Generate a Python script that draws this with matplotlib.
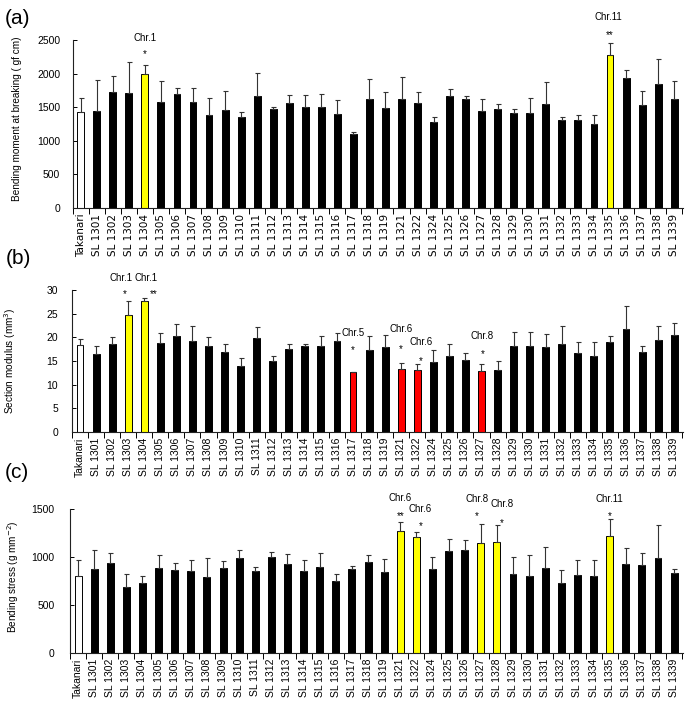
import matplotlib
matplotlib.use('Agg')
import matplotlib.pyplot as plt
import numpy as np

plt.rcParams['font.family'] = ['Liberation Sans', 'DejaVu Sans']

lines = ['Takanari', 'SL 1301', 'SL 1302', 'SL 1303', 'SL 1304', 'SL 1305', 'SL 1306',
         'SL 1307', 'SL 1308', 'SL 1309', 'SL 1310', 'SL 1311', 'SL 1312', 'SL 1313',
         'SL 1314', 'SL 1315', 'SL 1316', 'SL 1317', 'SL 1318', 'SL 1319', 'SL 1321',
         'SL 1322', 'SL 1324', 'SL 1325', 'SL 1326', 'SL 1327', 'SL 1328', 'SL 1329',
         'SL 1330', 'SL 1331', 'SL 1332', 'SL 1333', 'SL 1334', 'SL 1335', 'SL 1336',
         'SL 1337', 'SL 1338', 'SL 1339']

moment = [1430, 1440, 1720, 1710, 2000, 1580, 1700, 1580, 1390, 1460, 1350, 1670, 1480,
          1560, 1510, 1510, 1400, 1100, 1625, 1495, 1625, 1565, 1280, 1660, 1615, 1440,
          1480, 1420, 1420, 1550, 1315, 1310, 1250, 2280, 1935, 1535, 1845, 1625]
moment_sd = [200, 460, 250, 470, 130, 310, 90, 210, 250, 280, 80, 340, 20, 120, 170, 190,
             200, 35, 295, 230, 325, 160, 75, 105, 45, 180, 75, 60, 210, 325, 35, 70, 130,
             180, 120, 200, 365, 265]

modulus = [18.4, 16.5, 18.6, 24.7, 27.6, 18.8, 20.3, 19.3, 18.1, 16.9, 14.0, 19.9, 15.1,
           17.5, 18.1, 18.1, 19.3, 12.6, 17.4, 18.0, 13.3, 13.2, 14.8, 16.1, 15.2, 12.8,
           13.1, 18.1, 18.1, 17.9, 18.6, 16.7, 16.1, 19.0, 21.7, 17.0, 19.4, 20.4]
modulus_sd = [1.2, 1.6, 1.5, 3.0, 0.8, 2.2, 2.5, 3.0, 1.9, 1.7, 1.6, 2.3, 0.9, 1.1, 0.5,
              2.2, 1.6, 0.1, 2.9, 2.5, 1.2, 1.1, 2.5, 2.5, 1.5, 1.6, 1.9, 3.0, 3.0, 2.7,
              3.8, 2.3, 3.0, 1.2, 5.0, 1.1, 3.0, 2.7]

stress = [800, 874, 936, 689, 734, 884, 863, 849, 790, 884, 988, 849, 995, 922, 856, 891,
          748, 874, 950, 846, 1270, 1205, 871, 1065, 1075, 1148, 1155, 825, 797, 888, 728,
          811, 804, 1218, 929, 915, 988, 832]
stress_sd = [171, 201, 108, 136, 66, 136, 73, 122, 198, 70, 80, 52, 53, 108, 108, 153, 70,
             31, 66, 136, 91, 58, 128, 118, 98, 195, 174, 177, 219, 218, 132, 156, 163, 174,
             167, 122, 341, 48]

# highlighted lines (index -> colour)
a_high = {4: 'yellow', 33: 'yellow'}
b_high = {3: 'yellow', 4: 'yellow', 17: 'red', 20: 'red', 21: 'red', 25: 'red'}
c_high = {20: 'yellow', 21: 'yellow', 25: 'yellow', 26: 'yellow', 33: 'yellow'}

# annotations: (index, chromosome label, significance)
a_ann = [(4, 'Chr.1', '*'), (33, 'Chr.11', '**')]
b_ann = [(3, 'Chr.1', '*'), (4, 'Chr.1', '**'), (17, 'Chr.5', '*'), (20, 'Chr.6', '*'),
         (21, 'Chr.6', '*'), (25, 'Chr.8', '*')]
c_ann = [(20, 'Chr.6', '**'), (21, 'Chr.6', '*'), (25, 'Chr.8', '*'), (26, 'Chr.8', '*'),
         (33, 'Chr.11', '*')]

# layout offsets in pixels: (star_dx, star_up, chr_dx, chr_up)
a_off = [(0, 13, 0, 27), (0, 10, -2, 26)]
b_off = [(-3, 9, -7, 23), (9, 6, 2, 20), (0, 24, 0, 39), (0, 17, 0, 34), (4, 6, 4, 22),
         (1, 12, 1, 28)]
c_off = [(0, 9, 0, 24), (4, 8, 4, 23), (-4, 10, -4, 25), (5, 5, 5, 21), (0, 6, 0, 20)]

W, H = 685, 703
fig = plt.figure(figsize=(W / 100, H / 100), dpi=100)

n = len(lines)
x = np.arange(n)


def panel(rect, vals, sd, high, ann, off, ylim, yticks, ylabel, lab_xy, xfont, afont, ypad):
    ax = fig.add_axes(rect)
    colors = []
    for i in range(n):
        if i == 0:
            colors.append('white')
        else:
            colors.append(high.get(i, 'black'))
    colors = ['#ffff00' if c == 'yellow' else ('#ff0000' if c == 'red' else c) for c in colors]
    ax.bar(x, vals, width=0.43, color=colors, edgecolor='black', linewidth=0.7, zorder=2)
    ax.errorbar(x, vals, yerr=[np.zeros(n), sd], fmt='none', ecolor='#333333',
                elinewidth=0.8, capsize=1.8, capthick=0.8, zorder=3)
    ax.set_xlim(-0.5, n - 0.45)
    ax.set_ylim(*ylim)
    ax.set_yticks(yticks)
    ax.tick_params(axis='y', direction='in', length=3, width=0.7, labelsize=7.5, pad=ypad)
    ax.set_xticks(x)
    ax.set_xticklabels(lines, rotation=90, fontsize=7.5, family=xfont)
    ax.tick_params(axis='x', which='major', length=0, pad=4)
    ax.set_xticks(np.arange(-0.5, n, 1), minor=True)
    ax.tick_params(axis='x', which='minor', length=4, width=0.7, direction='out')
    for s in ['top', 'right']:
        ax.spines[s].set_visible(False)
    for s in ['left', 'bottom']:
        ax.spines[s].set_linewidth(0.8)
        ax.spines[s].set_color('#222222')
    ax.set_ylabel(ylabel, fontsize=7.2)
    ax.yaxis.set_label_coords(*lab_xy)
    for (i, chrl, star), (sdx, sup, cdx, cup) in zip(ann, off):
        top = vals[i] + sd[i]
        ax.annotate(star, xy=(i, top), xytext=(sdx * 0.72, (sup - 2.5) * 0.72),
                    textcoords='offset points', ha='center', va='center', fontsize=7)
        ax.annotate(chrl, xy=(i, top), xytext=(cdx * 0.72, cup * 0.72),
                    textcoords='offset points', ha='center', va='center', fontsize=afont)
    return ax


def rect(left_px, top_px, bottom_px, right_px=683):
    return [left_px / W, 1 - bottom_px / H, (right_px - left_px) / W, (bottom_px - top_px) / H]


panel(rect(72.7, 40, 208), moment, moment_sd, a_high, a_ann, a_off, (0, 2500),
      [0, 500, 1000, 1500, 2000, 2500], 'Bending moment at breaking ( gf cm)',
      (-0.083, 0.53), 'DejaVu Sans', 7, 9)
panel(rect(72, 290, 432), modulus, modulus_sd, b_high, b_ann, b_off, (0, 30),
      [0, 5, 10, 15, 20, 25, 30], 'Section modulus (mm$^3$)', (-0.088, 0.5),
      'Liberation Sans', 7, 10)
panel(rect(70, 509, 653), stress, stress_sd, c_high, c_ann, c_off, (0, 1500),
      [0, 500, 1000, 1500], 'Bending stress (g mm$^{-2}$)', (-0.080, 0.53),
      'Liberation Sans', 7, 11)

fig.text(18 / W, 1 - 18 / H, '(a)', ha='center', va='center', fontsize=15)
fig.text(18 / W, 1 - 259 / H, '(b)', ha='center', va='center', fontsize=15)
fig.text(17 / W, 1 - 472 / H, '(c)', ha='center', va='center', fontsize=15)

fig.savefig('out.png', dpi=100)
